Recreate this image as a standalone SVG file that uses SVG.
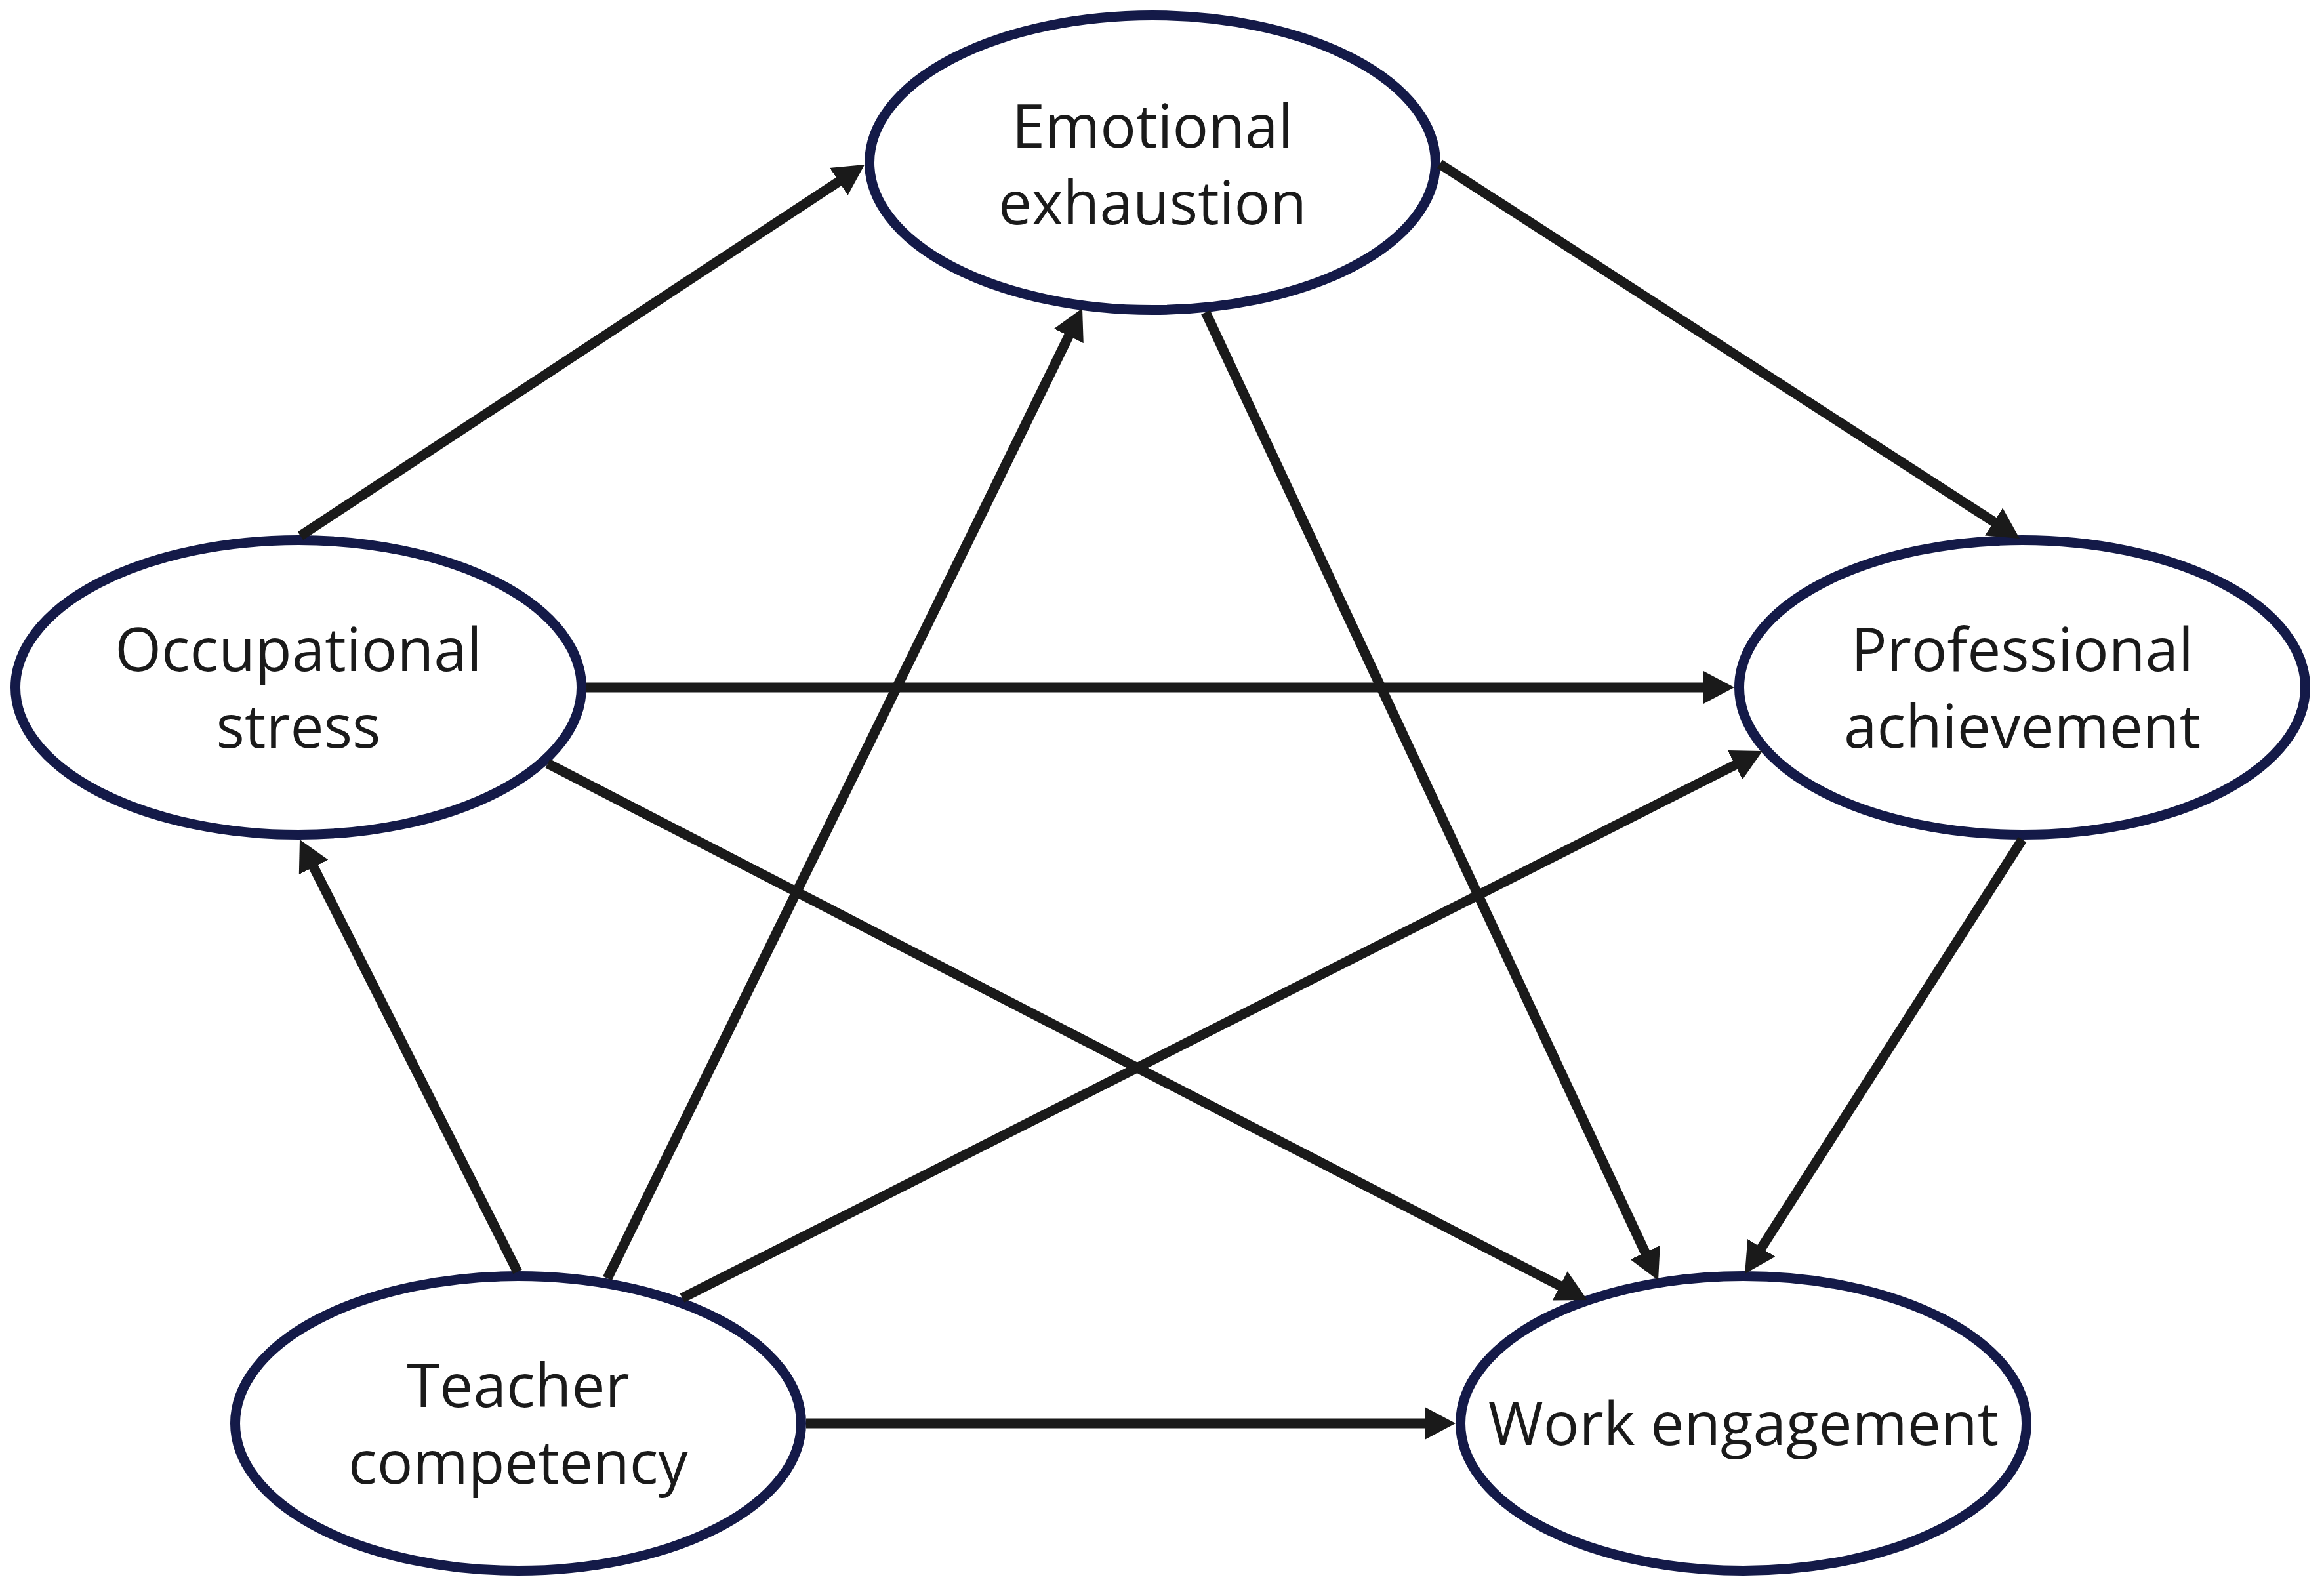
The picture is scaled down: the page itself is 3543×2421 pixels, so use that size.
<svg xmlns="http://www.w3.org/2000/svg" width="3543" height="2421" viewBox="0 0 3543 2421">
<style>
.node ellipse { fill: #ffffff; stroke: #141a48; stroke-width: 15; }
.node text { font-family: "Open Sans", "Noto Sans", "Liberation Sans", sans-serif; font-size: 91px; fill: #1a1a1a; text-anchor: middle; }
.edge { stroke: #1a1a1a; stroke-width: 15; fill: none; marker-end: url(#arrow); }
</style>
<defs>
<marker id="arrow" markerUnits="userSpaceOnUse" markerWidth="47" markerHeight="50" refX="17" refY="25" orient="auto" viewBox="0 0 47 50">
<path d="M0,0 L47,25 L0,50 z" fill="#1a1a1a"/>
</marker>
</defs>
<rect x="0" y="0" width="3543" height="2421" fill="#ffffff"/>
<g id="node-emotional" class="node">
<ellipse cx="1757" cy="248" rx="431.5" ry="224.5"/>
<text x="1757" y="225">Emotional</text>
<text x="1757" y="342">exhaustion</text>
</g>
<g id="node-occupational" class="node">
<ellipse cx="455" cy="1048" rx="431.5" ry="224.5"/>
<text x="455" y="1023">Occupational</text>
<text x="455" y="1140">stress</text>
</g>
<g id="node-professional" class="node">
<ellipse cx="3083" cy="1048" rx="431.5" ry="224.5"/>
<text x="3083" y="1023">Professional</text>
<text x="3083" y="1140">achievement</text>
</g>
<g id="node-teacher" class="node">
<ellipse cx="790" cy="2170" rx="431.5" ry="224.5"/>
<text x="790" y="2145">Teacher</text>
<text x="790" y="2262">competency</text>
</g>
<g id="node-work" class="node">
<ellipse cx="2658" cy="2170" rx="431.5" ry="224.5"/>
<text x="2658" y="2203">Work engagement</text>
</g>
<g id="connectors">
<line class="edge" x1="458" y1="817" x2="1293" y2="267.5"/>
<line class="edge" x1="2195" y1="250" x2="3053.8" y2="804.7"/>
<line class="edge" x1="894" y1="1048" x2="2614" y2="1048"/>
<line class="edge" x1="835" y1="1164" x2="2393.3" y2="1968.2"/>
<line class="edge" x1="1838" y1="476" x2="2515.3" y2="1924.8"/>
<line class="edge" x1="3083" y1="1280" x2="2676.2" y2="1916.7"/>
<line class="edge" x1="789" y1="1939" x2="470.5" y2="1306.8"/>
<line class="edge" x1="926" y1="1949" x2="1636.8" y2="496.9"/>
<line class="edge" x1="1040" y1="1979" x2="2660.2" y2="1158.6"/>
<line class="edge" x1="1229" y1="2170" x2="2189" y2="2170"/>
</g>
</svg>
